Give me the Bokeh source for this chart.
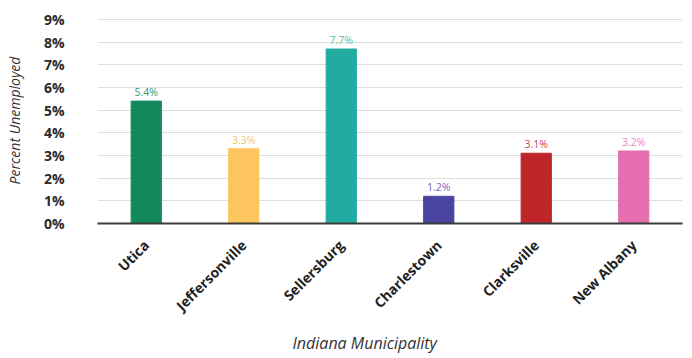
from math import pi

from bokeh.core.properties import value
from bokeh.embed import file_html
from bokeh.models import ColumnDataSource, FixedTicker, Range1d, Title
from bokeh.plotting import figure
from bokeh.resources import INLINE

# Unemployment rate by municipality (percent)
municipalities = ["Utica", "Jeffersonville", "Sellersburg", "Charlestown", "Clarksville", "New Albany"]
unemployment = [5.4, 3.3, 7.7, 1.2, 3.1, 3.2]
bar_colors = ["#12895a", "#fec55f", "#22aba1", "#4a44a0", "#bf2629", "#e56fae"]
label_colors = ["#3a9a72", "#f4c569", "#5bbfb6", "#6e69b5", "#c9484b", "#e887b9"]
y_ticks = [0, 1, 2, 3, 4, 5, 6, 7, 8, 9]

source = ColumnDataSource(dict(
    name=municipalities,
    rate=unemployment,
    color=bar_colors,
    label_color=label_colors,
    text=[f"{v:.1f}%" for v in unemployment],
))

p = figure(
    x_range=municipalities,
    y_range=Range1d(0, 9.09),
    width=692, height=358,
    output_backend="svg", toolbar_location=None,
    min_border_left=97, min_border_right=10,
    min_border_top=17, min_border_bottom=0,
)
p.x_range.range_padding = 0
p.outline_line_color = None
p.background_fill_color = "white"
p.border_fill_color = "white"

p.vbar(x="name", top="rate", width=0.31, color="color", source=source)
p.text(x="name", y="rate", text="text", source=source,
       text_color="label_color", text_align="center", text_baseline="bottom",
       y_offset=-2, text_font=value("Open Sans"), text_font_size="10.5px")

# Grid
p.xgrid.grid_line_color = None
p.ygrid.grid_line_color = "#dddddd"
p.ygrid.grid_line_width = 1
p.ygrid.ticker = FixedTicker(ticks=y_ticks)

# Y axis
p.yaxis.ticker = FixedTicker(ticks=y_ticks)
p.yaxis.major_label_overrides = {t: f"{t}%" for t in y_ticks}
p.yaxis.axis_line_color = None
p.yaxis.major_tick_line_color = None
p.yaxis.minor_tick_line_color = None
p.yaxis.major_label_standoff = 27
p.yaxis.major_label_text_font = "Open Sans"
p.yaxis.major_label_text_font_style = "bold"
p.yaxis.major_label_text_font_size = "14px"
p.yaxis.major_label_text_color = "#2b2b2b"
p.yaxis.axis_label = "Percent Unemployed"
p.yaxis.axis_label_text_font = "Open Sans"
p.yaxis.axis_label_text_font_style = "italic"
p.yaxis.axis_label_text_font_size = "14px"
p.yaxis.axis_label_text_color = "#333333"
p.yaxis.axis_label_standoff = 17

# X axis
p.xaxis.axis_line_color = "#3a3a3a"
p.xaxis.axis_line_width = 2
p.xaxis.major_tick_line_color = None
p.xaxis.minor_tick_line_color = None
p.xaxis.major_label_orientation = pi / 4
p.xaxis.major_label_standoff = 13
p.xaxis.major_label_text_font = "Open Sans"
p.xaxis.major_label_text_font_style = "bold"
p.xaxis.major_label_text_font_size = "14px"
p.xaxis.major_label_text_color = "#222222"

# Axis title placed below the rotated labels
p.add_layout(Title(
    text="Indiana Municipality", align="left", offset=195,
    vertical_align="bottom",
    text_font="Open Sans", text_font_style="italic", text_font_size="16px",
    text_color="#333333", standoff=10, text_line_height=0.1,
), "below")

open("out.html", "w").write(file_html(p, INLINE))
